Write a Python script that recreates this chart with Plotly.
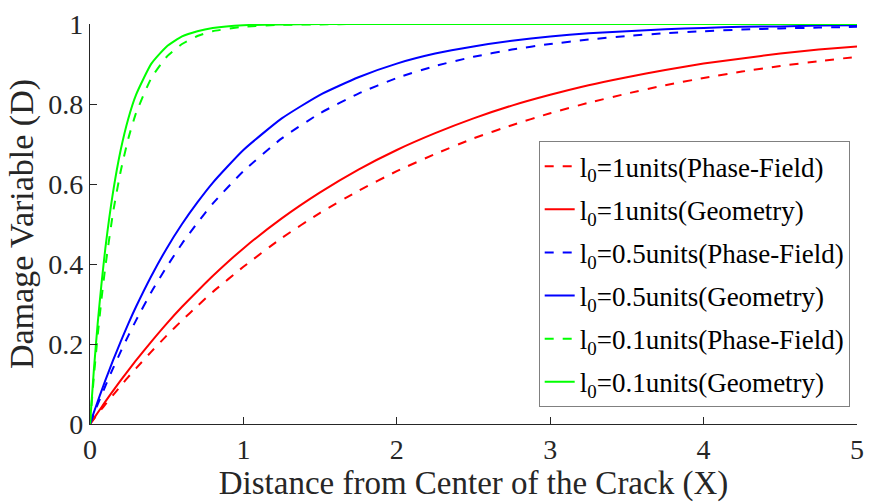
import plotly.graph_objects as go

X = [0, 0.025, 0.05, 0.075, 0.1, 0.15, 0.2, 0.25, 0.3, 0.4, 0.5, 0.6, 0.7, 0.8,
     1.0, 1.25, 1.5, 1.75, 2.0, 2.25, 2.5, 2.75, 3.0, 3.25, 3.5, 3.75, 4.0, 4.25, 4.5, 4.75, 5.0]

red_pf = [0, .012, .025, .037, .049, .072, .095, .118, .139, .181, .221, .259, .295, .330,
          .393, .465, .528, .583, .632, .675, .714, .747, .777, .803, .826, .847, .865, .881, .895, .907, .918]
red_geo = [0, .014, .028, .042, .056, .083, .109, .134, .159, .206, .251, .293, .332, .370,
           .439, .514, .579, .636, .685, .727, .764, .796, .823, .847, .867, .885, .901, .914, .926, .936, .944]
blue_pf = [0, .025, .049, .072, .095, .139, .181, .221, .259, .330, .393, .451, .503, .551,
           .632, .714, .777, .826, .865, .895, .918, .936, .950, .961, .970, .977, .982, .986, .989, .991, .993]
blue_geo = [0, .029, .056, .083, .109, .159, .206, .251, .293, .370, .439, .500, .554, .603,
            .685, .764, .823, .867, .901, .926, .944, .958, .969, .977, .982, .987, .990, .993, .994, .996, .997]
green_pf = [0, .118, .221, .313, .393, .528, .632, .714, .777, .865, .918, .950, .970, .982,
            .993, .998, .999, 1, 1, 1, 1, 1, 1, 1, 1, 1, 1, 1, 1, 1, 1]
green_geo = [0, .134, .251, .351, .439, .579, .685, .764, .823, .901, .944, .969, .982, .990,
             .997, .999, 1, 1, 1, 1, 1, 1, 1, 1, 1, 1, 1, 1, 1, 1, 1]

series = [
    ("l<sub>0</sub>=1units(Phase-Field)", red_pf, "#ff0000", "dash"),
    ("l<sub>0</sub>=1units(Geometry)", red_geo, "#ff0000", "solid"),
    ("l<sub>0</sub>=0.5units(Phase-Field)", blue_pf, "#0000ff", "dash"),
    ("l<sub>0</sub>=0.5units(Geometry)", blue_geo, "#0000ff", "solid"),
    ("l<sub>0</sub>=0.1units(Phase-Field)", green_pf, "#00ff00", "dash"),
    ("l<sub>0</sub>=0.1units(Geometry)", green_geo, "#00ff00", "solid"),
]

fig = go.Figure()
for i, (name, ys, color, dash) in enumerate(series):
    fig.add_trace(go.Scatter(x=X, y=ys, mode="lines", name=name, legendgroup="g%d" % i,
                             line=dict(color=color, width=2, dash=dash, shape="spline", smoothing=0.5)))

font = "Liberation Serif"
axis_common = dict(showline=True, linecolor="#262626", linewidth=1.2, ticks="inside",
                   ticklen=7, tickcolor="#262626", showgrid=False, zeroline=False,
                   tickfont=dict(family=font, size=28, color="#262626"), mirror=False)

fig.update_layout(
    width=873, height=504,
    margin=dict(l=90, r=9, t=18, b=80),
    paper_bgcolor="white", plot_bgcolor="white",
    font=dict(family=font, color="#262626"),
    showlegend=True,
    legend=dict(x=0.585, y=0.707, xanchor="left", yanchor="top",
                bordercolor="#808080", borderwidth=1, bgcolor="white",
                font=dict(family=font, size=27, color="black"),
                tracegroupgap=5, itemwidth=30),
    xaxis=dict(range=[0, 5], tickvals=[0, 1, 2, 3, 4, 5], ticktext=["0", "1", "2", "3", "4", "5"],
               title=dict(text="Distance from Center of the Crack (X)", standoff=4,
                          font=dict(family=font, size=33, color="#262626")),
               **axis_common),
    yaxis=dict(range=[0, 1], tickvals=[0, 0.2, 0.4, 0.6, 0.8, 1],
               ticktext=["0", "0.2", "0.4", "0.6", "0.8", "1"],
               title=dict(text="Damage Variable (D)\u00a0\u00a0", standoff=4,
                          font=dict(family=font, size=34, color="#262626")),
               **axis_common),
)

fig.write_html("out.html")
